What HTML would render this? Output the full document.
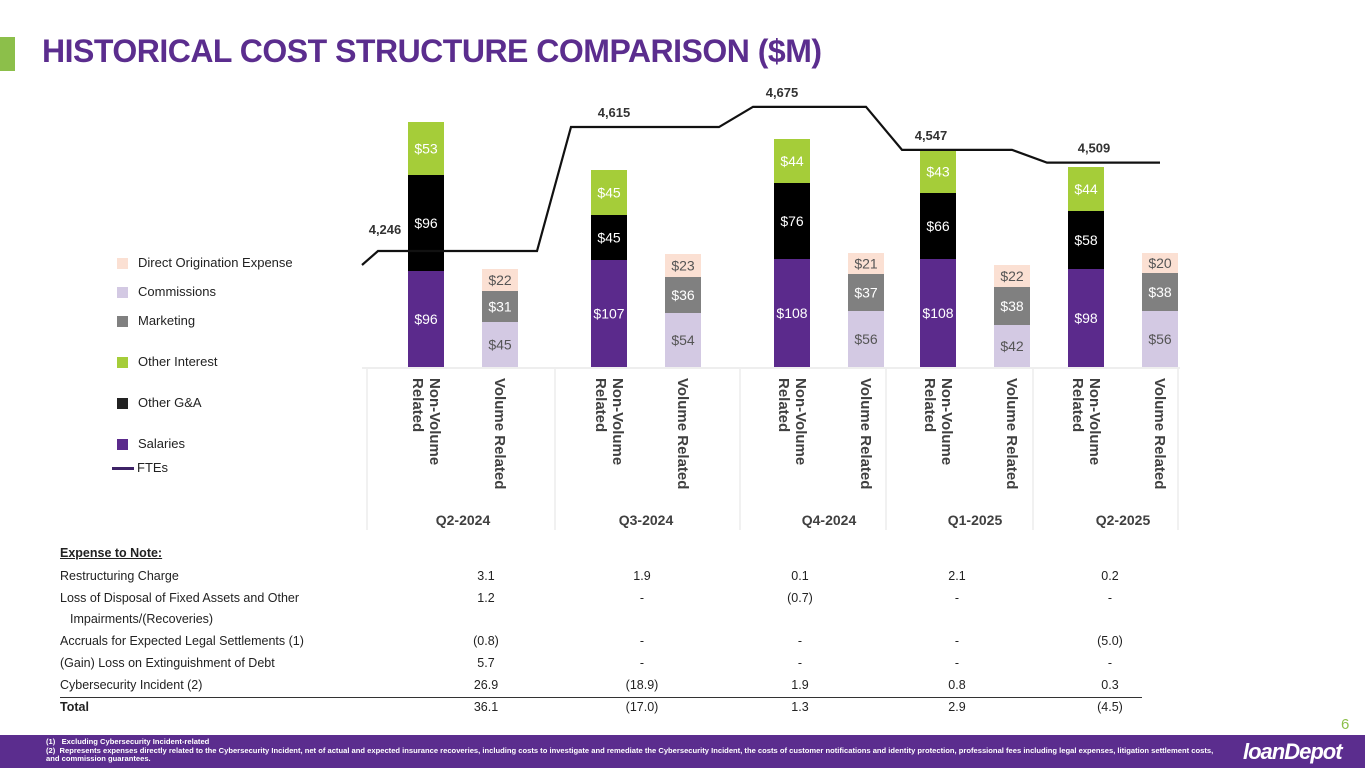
<!DOCTYPE html>
<html><head><meta charset="utf-8"><style>
body{margin:0;width:1365px;height:768px;overflow:hidden;background:#fff;font-family:"Liberation Sans",sans-serif;position:relative}
.abs{position:absolute}
.lg{position:absolute;left:117px;font-size:13px;color:#222}
.lg i{position:absolute;left:0;top:3px;width:11px;height:11px}
.lg span{position:absolute;left:21px;white-space:nowrap}
.vl{position:absolute;writing-mode:vertical-rl;font-weight:bold;font-size:15px;color:#404040;line-height:17px;top:378px}
.ql{position:absolute;top:512px;font-weight:bold;font-size:14px;color:#404040;width:120px;text-align:center}
.tr{position:absolute;left:60px;font-size:12.5px;color:#222;width:1100px;height:18px}
.tr b,.tr span.v{position:absolute;top:0}
.v{width:60px;text-align:center}
</style></head><body>
<div class="abs" style="left:0;top:37px;width:15px;height:34px;background:#8cbf4a"></div>
<div class="abs" style="left:42px;top:33px;font-size:32px;font-weight:900;color:#5b2d8e;letter-spacing:-0.5px;white-space:nowrap">HISTORICAL COST STRUCTURE COMPARISON ($M)</div>

<div>
<div class="lg" style="top:255px"><i style="background:#fbe0d3"></i><span>Direct Origination Expense</span></div>
<div class="lg" style="top:284px"><i style="background:#d3c9e3"></i><span>Commissions</span></div>
<div class="lg" style="top:313px"><i style="background:#808080"></i><span>Marketing</span></div>
<div class="lg" style="top:354px"><i style="background:#a5cd39"></i><span>Other Interest</span></div>
<div class="lg" style="top:395px"><i style="background:#222"></i><span>Other G&amp;A</span></div>
<div class="lg" style="top:436px"><i style="background:#5b2a8c"></i><span>Salaries</span></div>
<div class="lg" style="top:460px;left:112px"><i style="background:#3d2266;width:22px;height:3px;top:7px"></i><span style="left:25px">FTEs</span></div>
</div>

<svg id="chart" class="abs" style="left:0;top:0" width="1365" height="768"></svg>

<div id="cats"></div>

<div class="abs" style="left:0;top:0">
<div class="tr" style="top:546px"><b style="left:0;text-decoration:underline">Expense to Note:</b></div>
<div id="rows"></div>
<div class="abs" style="left:60px;top:697px;width:1082px;height:1px;background:#333"></div>
</div>

<div class="abs" style="left:1341px;top:716px;font-size:15px;color:#8cbf4a">6</div>
<div class="abs" style="left:0;top:735px;width:1365px;height:33px;background:#5b2d8e;color:#fff;font-size:7.6px;line-height:8.5px;font-weight:bold">
<div style="position:absolute;left:46px;top:3px;width:1180px">(1)&nbsp;&nbsp;&nbsp;Excluding Cybersecurity Incident-related<br>(2)&nbsp;&nbsp;Represents expenses directly related to the Cybersecurity Incident, net of actual and expected insurance recoveries, including costs to investigate and remediate the Cybersecurity Incident, the costs of customer notifications and identity protection, professional fees including legal expenses, litigation settlement costs, and commission guarantees.</div>
<div style="position:absolute;left:1243px;top:4px;font-size:22px;line-height:26px;font-weight:bold;font-style:italic;letter-spacing:-1px">loanDepot</div>
</div>

<script>
const quarters=["Q2-2024","Q3-2024","Q4-2024","Q1-2025","Q2-2025"];
const salaries=[96,107,108,108,98];
const otherGA=[96,45,76,66,58];
const otherInterest=[53,45,44,43,44];
const commissions=[45,54,56,42,56];
const marketing=[31,36,37,38,38];
const doe=[22,23,21,22,20];
const ftes=[4246,4615,4675,4547,4509];
const rowLabels=["Restructuring Charge","Loss of Disposal of Fixed Assets and  Other","Accruals for Expected Legal Settlements (1)","(Gain) Loss on Extinguishment of Debt","Cybersecurity Incident (2)","Total"];
const rowVals=[["3.1","1.9","0.1","2.1","0.2"],["1.2","-","(0.7)","-","-"],["(0.8)","-","-","-","(5.0)"],["5.7","-","-","-","-"],["26.9","(18.9)","1.9","0.8","0.3"],["36.1","(17.0)","1.3","2.9","(4.5)"]];

const NS="http://www.w3.org/2000/svg";
const svg=document.getElementById('chart');
const base=367, pxPer=1.0;
const nvX=[426,609,792,938,1086];
const vX=[500,683,866,1012,1160];
const bw=36;
const y=v=>base-v*pxPer;
const fy=f=>251-(f-4246)*0.336;
function mk(t,a){const e=document.createElementNS(NS,t);for(const k in a)e.setAttribute(k,a[k]);svg.appendChild(e);return e;}
const seps=[367,555,740,886,1033,1178];
seps.forEach(x=>{const l=mk('line',{x1:x,x2:x,y1:base+2,y2:530,stroke:'#e3e3e3','stroke-width':1});

});
const ax=mk('line',{x1:362,x2:1180,y1:base+1,y2:base+1,stroke:'#e8e8e8','stroke-width':1.5});


function stack(cx,series,colors,tcols,names,i){
  let acc=0;
  series.forEach((s,k)=>{
    const v=s[i];
    const r=mk('rect',{x:cx-bw/2,y:y(acc+v),width:bw,height:v*pxPer,fill:colors[k]});
    
    
    const t=mk('text',{x:cx,y:y(acc+v/2)+5,'text-anchor':'middle','font-size':14,fill:tcols[k],'font-family':'Liberation Sans, sans-serif'});
    t.textContent='$'+v;
    
    
    acc+=v;
  });
}
for(let i=0;i<5;i++){
  stack(nvX[i],[salaries,otherGA,otherInterest],['#5b2a8c','#000','#a5cd39'],['#fff','#fff','#fff'],['salaries','other-ga','other-interest'],i);
  stack(vX[i],[commissions,marketing,doe],['#d3c9e3','#808080','#fbe0d3'],['#555','#fff','#555'],['commissions','marketing','doe'],i);
}
// FTE line
const segStart=[378,571,753,902,1047];
const segEnd=[537,719,866,1012,1160];
let pts=[[362,265]];
for(let i=0;i<5;i++){
  pts.push([segStart[i],fy(ftes[i])],[segEnd[i],fy(ftes[i])]);
}
const pl=mk('polyline',{points:pts.map(p=>p.join(',')).join(' '),fill:'none',stroke:'#111','stroke-width':2.2});


const lblX=[385,614,782,931,1094];
for(let i=0;i<5;i++){
  const t=mk('text',{x:lblX[i],y:fy(ftes[i])-(i==0?17:10),'text-anchor':'middle','font-size':13,'font-weight':'bold',fill:'#333','font-family':'Liberation Sans, sans-serif'});
  t.textContent=ftes[i].toLocaleString('en-US');
  
  
}
const cats=document.getElementById('cats');
for(let i=0;i<5;i++){
  const a=document.createElement('div');a.className='vl';a.style.left=(nvX[i]-17)+'px';a.innerHTML='Non-Volume<br>Related';
  
  
  cats.appendChild(a);
  const b=document.createElement('div');b.className='vl';b.style.left=(vX[i]-9)+'px';b.textContent='Volume Related';
  
  
  cats.appendChild(b);
  const q=document.createElement('div');q.className='ql';q.style.left=((nvX[i]+vX[i])/2-60)+'px';q.textContent=quarters[i];
  
  
  cats.appendChild(q);
}
const rows=document.getElementById('rows');
const colX=[426,582,740,897,1050];
const rowY=[569,591,634,656,678,700];
rowLabels.forEach((l,r)=>{
  const d=document.createElement('div');d.className='tr';d.style.top=rowY[r]+'px';
  
  
  let h=(r==5?'<b style="left:0">':'<span style="position:absolute;left:0">')+l+(r==5?'</b>':'</span>');
  rowVals[r].forEach((v,c)=>{h+='<span class="v" style="left:'+(colX[c]-30)+'px">'+v+'</span>';});
  d.innerHTML=h;rows.appendChild(d);
  if(r==1){const e=document.createElement('div');e.className='tr';e.style.top='612px';e.innerHTML='<span style="position:absolute;left:10px">Impairments/(Recoveries)</span>';
  
  
  rows.appendChild(e);}
});
</script>
</body></html>
